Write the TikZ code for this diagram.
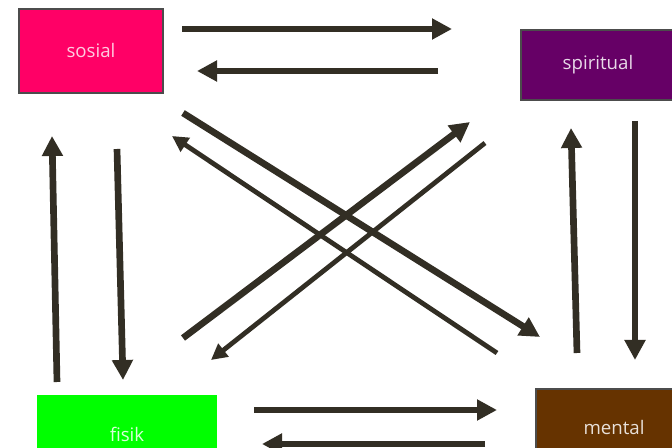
\documentclass[tikz,border=0pt]{standalone}
\usepackage{fontspec}
\setmainfont{Open Sans}
\usetikzlibrary{arrows.meta}
\definecolor{sosialpink}{HTML}{FF0066}
\definecolor{spiritpurple}{HTML}{660066}
\definecolor{fisikgreen}{HTML}{00FF00}
\definecolor{mentalbrown}{HTML}{663300}
\definecolor{arrowdark}{HTML}{322E24}
\tikzset{
  area/.style={draw=black!70, line width=0.8pt, inner sep=0pt, font=\fontsize{14}{16}\selectfont},
  flow/.style={-{Triangle[length=15pt,width=15pt]}, line width=5pt, draw=arrowdark},
  thinflow/.style={-{Triangle[length=12pt,width=12pt]}, line width=3.6pt, draw=arrowdark}
}

\begin{document}
\begin{tikzpicture}[x=0.75pt,y=-0.75pt]
  \path[use as bounding box, clip] (0,0) rectangle (672,448);
  \fill[white] (0,0) rectangle (672,448);

  % the four areas
  \node[area, fill=sosialpink, text=white!80!sosialpink, minimum width=108pt, minimum height=63pt] (sosial) at (91,51) {sosial};
  \node[area, fill=spiritpurple, text=white!85!spiritpurple, minimum width=115.5pt, minimum height=52.5pt] (spiritual) at (598,65) {spiritual};
  \node[area, draw=fisikgreen, fill=fisikgreen, text=white!85!fisikgreen, minimum width=133.5pt, minimum height=57pt] (fisik) at (127,434) {fisik};
  \node[area, fill=mentalbrown, text=white!85!mentalbrown, minimum width=117pt, minimum height=58.5pt] (mental) at (614,428) {mental};

  % arrow ends
  \coordinate (sosSpiA) at (182,29);  \coordinate (spiSosA) at (452,29);
  \coordinate (spiSosB) at (438,71);  \coordinate (sosSpiB) at (197,71);
  \coordinate (sosMenA) at (183,113); \coordinate (menSosA) at (540,337);
  \coordinate (menSosB) at (497,353); \coordinate (sosMenB) at (172,136);
  \coordinate (fisSpiA) at (183,338); \coordinate (spiFisA) at (470,122);
  \coordinate (spiFisB) at (485,143); \coordinate (fisSpiB) at (211,360);
  \coordinate (fisSosA) at (57,382);  \coordinate (sosFisA) at (52,136);
  \coordinate (sosFisB) at (117,149); \coordinate (fisSosB) at (123,380);
  \coordinate (menSpiA) at (577,353); \coordinate (spiMenA) at (571,128);
  \coordinate (spiMenB) at (635,121); \coordinate (menSpiB) at (635,360);
  \coordinate (fisMenA) at (254,410); \coordinate (menFisA) at (497,410);
  \coordinate (menFisB) at (485,444); \coordinate (fisMenB) at (262,444);

  \draw[flow] (sosSpiA) -- (spiSosA);
  \draw[flow] (spiSosB) -- (sosSpiB);
  \draw[flow] (sosMenA) -- (menSosA);
  \draw[thinflow] (menSosB) -- (sosMenB);
  \draw[flow] (fisSpiA) -- (spiFisA);
  \draw[thinflow] (spiFisB) -- (fisSpiB);
  \draw[flow] (fisSosA) -- (sosFisA);
  \draw[flow] (sosFisB) -- (fisSosB);
  \draw[flow] (menSpiA) -- (spiMenA);
  \draw[flow] (spiMenB) -- (menSpiB);
  \draw[flow] (fisMenA) -- (menFisA);
  \draw[flow] (menFisB) -- (fisMenB);
\end{tikzpicture}
\end{document}
